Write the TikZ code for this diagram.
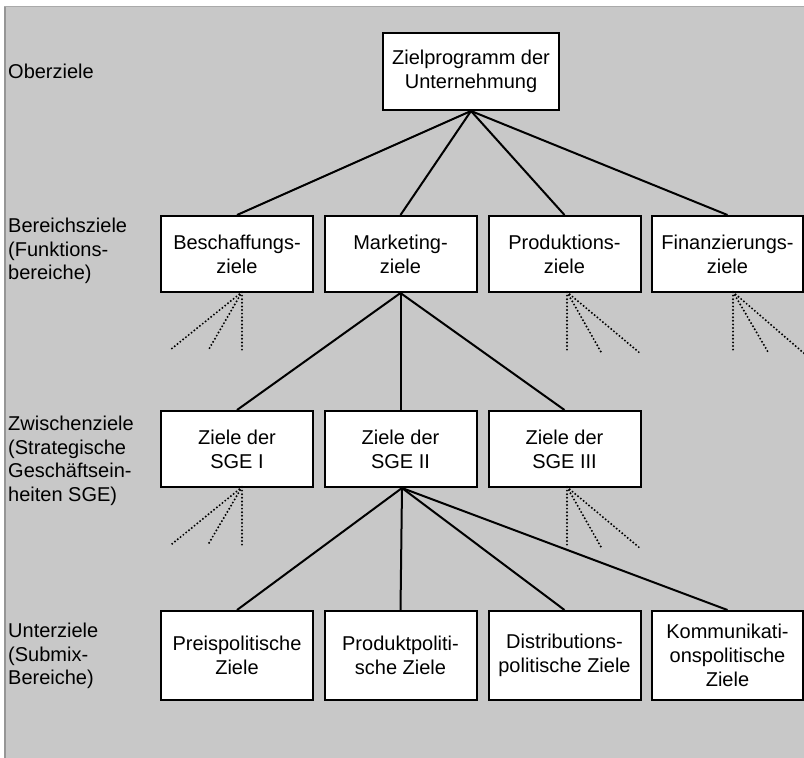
\documentclass[tikz,border=0pt]{standalone}
\usepackage{fontspec}
\setmainfont{Liberation Sans}
\definecolor{panel}{RGB}{200,200,200}
\definecolor{paneledge}{RGB}{150,150,150}
\begin{document}
\begin{tikzpicture}[x=1pt,y=-1pt,
  zbox/.style={draw=black, fill=white, line width=2pt, align=center, inner sep=0pt,
    minimum width=152pt, minimum height=76pt, font=\fontsize{20}{24}\selectfont},
  lowbox/.style={zbox, minimum height=89pt},
  lvl/.style={anchor=west, align=left, inner sep=0pt, font=\fontsize{20}{23.5}\selectfont},
  link/.style={line width=2pt},
  fan/.style={line width=2.2pt, line cap=round, dash pattern=on 0pt off 3.6pt}]
\useasboundingbox (0,0) rectangle (804,758);
% panel
\fill[white] (0,0) rectangle (804,758);
\fill[panel] (4,6) rectangle (804,758);
\draw[paneledge, line width=1.5pt] (4.75,6) -- (4.75,758);
\draw[panel!85!black, line width=1pt] (4,6.5) -- (804,6.5);

% level labels
\node[lvl] (l1) at (8,71) {Oberziele};
\node[lvl] (l2) at (8,251) {Bereichsziele\\(Funktions-\\bereiche)};
\node[lvl] (l3) at (8,461) {Zwischenziele\\(Strategische\\Geschäftsein-\\heiten SGE)};
\node[lvl] (l4) at (8,656) {Unterziele\\(Submix-\\Bereiche)};

% boxes
\node[zbox, minimum width=176pt, minimum height=77pt] (top) at (471,71.5) {Zielprogramm der\\Unternehmung};

\node[zbox] (b1) at (237,254) {Beschaffungs-\\ziele};
\node[zbox] (b2) at (400.5,254) {Marketing-\\ziele};
\node[zbox] (b3) at (564.5,254) {Produktions-\\ziele};
\node[zbox, minimum width=151pt] (b4) at (727.5,254) {Finanzierungs-\\ziele};

\node[zbox] (s1) at (237,449) {Ziele der\\SGE I};
\node[zbox] (s2) at (400.5,449) {Ziele der\\SGE II};
\node[zbox] (s3) at (564.5,449) {Ziele der\\SGE III};

\node[lowbox] (u1) at (237,655.5) {Preispolitische\\Ziele};
\node[lowbox] (u2) at (400.5,655.5) {Produktpoliti-\\sche Ziele};
\node[lowbox] (u3) at (564.5,655.5) {Distributions-\\politische Ziele};
\node[lowbox, minimum width=151pt] (u4) at (727.5,655.5) {Kommunikati-\\onspolitische\\Ziele};

% solid connectors
\foreach \n in {b1,b2,b3,b4} \draw[link] (top.south) -- (\n.north);
\foreach \n in {s1,s2,s3} \draw[link] (b2.south) -- (\n.north);
\foreach \n in {u1,u2,u3,u4} \draw[link] ([xshift=1.5pt]s2.south) -- (\n.north);

% dotted fans (further, undrawn branches)
\coordinate (fb1a) at (170,350); \coordinate (fb1b) at (209,349); \coordinate (fb1c) at (242,353);
\coordinate (fb3a) at (567,350); \coordinate (fb3b) at (601,352); \coordinate (fb3c) at (641,354);
\coordinate (fb4a) at (733,350); \coordinate (fb4b) at (768,352); \coordinate (fb4c) at (806,355);
\coordinate (fs1a) at (172,544); \coordinate (fs1b) at (209,543); \coordinate (fs1c) at (242,548);
\coordinate (fs3a) at (567,545); \coordinate (fs3b) at (601,547); \coordinate (fs3c) at (641,549);

\foreach \e in {fb1a,fb1b,fb1c} \draw[fan] ([xshift=5pt,yshift=1pt]b1.south) -- (\e);
\foreach \e in {fb3a,fb3b,fb3c} \draw[fan] ([xshift=2.5pt,yshift=1pt]b3.south) -- (\e);
\foreach \e in {fb4a,fb4b,fb4c} \draw[fan] ([xshift=5.5pt,yshift=1pt]b4.south) -- (\e);
\foreach \e in {fs1a,fs1b,fs1c} \draw[fan] ([xshift=5pt,yshift=1pt]s1.south) -- (\e);
\foreach \e in {fs3a,fs3b,fs3c} \draw[fan] ([xshift=2.5pt,yshift=1pt]s3.south) -- (\e);
\end{tikzpicture}
\end{document}
